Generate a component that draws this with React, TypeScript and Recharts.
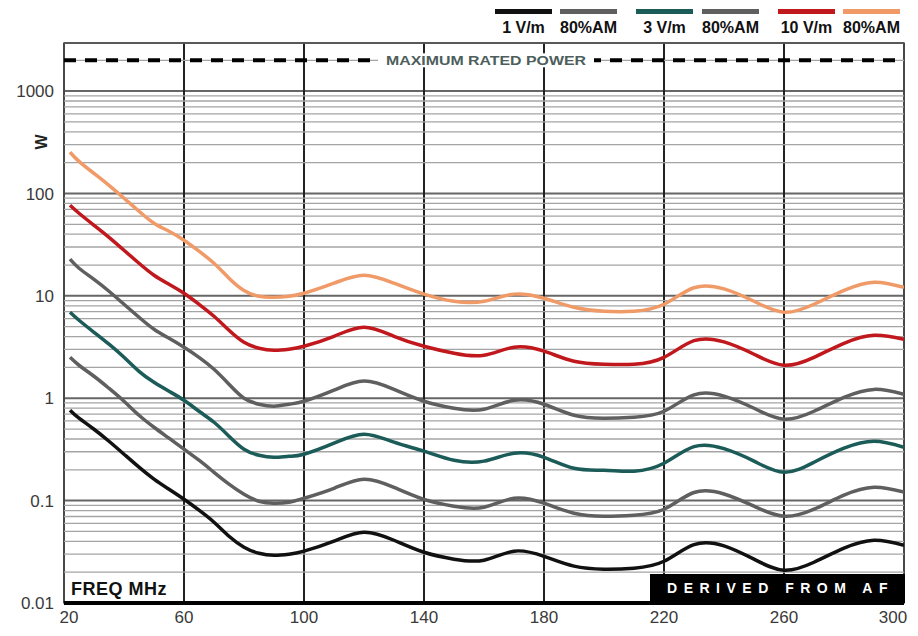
import React from 'react';
import {
  LineChart, Line, XAxis, YAxis, CartesianGrid, ReferenceLine, ReferenceArea,
} from 'recharts';

// frequency points (MHz)
const freqs = [
  22, 25, 30, 35, 40, 45, 50, 55, 60, 65, 70, 75, 80, 85, 90, 95, 100,
  110, 120, 130, 140, 150, 160, 170, 180, 190, 200, 210, 220, 230, 240,
  250, 260, 270, 280, 290, 300,
];

// required power (W), one array per curve
const e1 = [
  0.764, 0.638, 0.498, 0.38, 0.284, 0.212, 0.162, 0.129, 0.103, 0.0806, 0.0615, 0.0449, 0.0351, 0.0306, 0.0293, 0.03, 0.0321,
  0.0402, 0.0491, 0.041, 0.0313, 0.0268, 0.0262, 0.0321, 0.0286, 0.0229, 0.0214, 0.0219, 0.0256, 0.0372, 0.0362,
  0.0268, 0.0209, 0.025, 0.0343, 0.041, 0.0367,
];
const e1am = [
  2.51, 2.1, 1.64, 1.25, 0.935, 0.682, 0.521, 0.407, 0.318, 0.248, 0.189, 0.145, 0.1155, 0.0987, 0.0944, 0.0965, 0.1055,
  0.132, 0.162, 0.135, 0.103, 0.0882, 0.0862, 0.1055, 0.0944, 0.0753, 0.0704, 0.072, 0.0824, 0.12, 0.116,
  0.0882, 0.0704, 0.0824, 0.113, 0.135, 0.121,
];
const e3 = [
  6.92, 5.78, 4.41, 3.37, 2.51, 1.83, 1.43, 1.17, 0.955, 0.746, 0.583, 0.426, 0.318, 0.277, 0.265, 0.271, 0.284,
  0.364, 0.445, 0.372, 0.304, 0.248, 0.243, 0.29, 0.265, 0.207, 0.198, 0.194, 0.232, 0.337, 0.322,
  0.243, 0.189, 0.237, 0.325, 0.38, 0.332,
];
const e3am = [
  22.8, 18.6, 14.5, 11.1, 8.28, 6.18, 4.72, 3.85, 3.15, 2.51, 1.92, 1.37, 1.0, 0.874, 0.835, 0.874, 0.935,
  1.2, 1.47, 1.22, 0.935, 0.798, 0.781, 0.956, 0.874, 0.682, 0.638, 0.652, 0.746, 1.08, 1.05,
  0.798, 0.624, 0.746, 1.02, 1.22, 1.094,
];
const e10 = [
  76.7, 64.1, 48.9, 37.3, 27.9, 20.8, 15.9, 13.0, 10.6, 8.28, 6.32, 4.61, 3.52, 3.08, 2.94, 3.01, 3.22,
  4.03, 4.94, 4.03, 3.22, 2.75, 2.63, 3.15, 2.88, 2.3, 2.15, 2.15, 2.51, 3.65, 3.55,
  2.69, 2.1, 2.51, 3.44, 4.12, 3.77,
];
const e10am = [
  253, 206, 157, 120, 89.8, 67.0, 51.2, 42.8, 34.9, 27.3, 20.8, 14.9, 11.3, 9.91, 9.69, 9.91, 10.6,
  13.3, 15.9, 13.3, 10.4, 8.85, 8.85, 10.4, 9.48, 7.74, 7.07, 7.07, 8.28, 12.0, 11.7,
  8.85, 6.92, 8.28, 11.3, 13.6, 12.1,
];

const xTicks = [20, 60, 100, 140, 180, 220, 260, 300];
const yTicks = [0.01, 0.1, 1, 10, 100, 1000];
const minorSteps = [2, 3, 4, 5, 6, 7, 8, 9];
const yTop = 2950;
const maxRated = 2000;

const series = [
  { key: 'e1', label: '1 V/m', color: '#111111', values: e1 },
  { key: 'e1am', label: '80%AM', color: '#5f5f5f', values: e1am },
  { key: 'e3', label: '3 V/m', color: '#1b5b58', values: e3 },
  { key: 'e3am', label: '80%AM', color: '#5f5f5f', values: e3am },
  { key: 'e10', label: '10 V/m', color: '#c0181c', values: e10 },
  { key: 'e10am', label: '80%AM', color: '#f09a68', values: e10am },
];

const data = freqs.map((f, i) => {
  const row: Record<string, number> = { f };
  series.forEach((s) => { row[s.key] = s.values[i]; });
  return row;
});

const minorLines = yTicks.flatMap((d) => minorSteps.map((m) => d * m)).filter((v) => v < yTop);

const font = '"Liberation Sans", Arial, sans-serif';

const XTick = (props: any) => {
  const { x, y, payload, index } = props;
  const shift = index === 0 ? 5 : index === xTicks.length - 1 ? -11 : 0;
  return (
    <text x={x + shift} y={y} dy={14} textAnchor="middle" fill="#3a3a3a" fontSize={17} fontFamily={font}>
      {payload.value}
    </text>
  );
};

const MaxLabel = (props: any) => {
  const { viewBox } = props;
  const cx = viewBox.x + viewBox.width / 2 + 2;
  const cy = viewBox.y;
  return (
    <g>
      <rect x={cx - 108} y={cy - 7} width={216} height={14} fill="#fff" />
      <text x={cx} y={cy + 4.5} textAnchor="middle" fontSize={12} fontWeight="bold" fill="#4d5e5c"
        fontFamily={font} textLength={200} lengthAdjust="spacingAndGlyphs">
        MAXIMUM RATED POWER
      </text>
    </g>
  );
};

const legendLeft = [495, 560, 636, 702, 778, 843];

export default function App() {
  return (
    <div style={{ position: 'relative', width: 918, height: 636, background: '#fff', fontFamily: font }}>
      <style>{'body{margin:0}'}</style>
      <LineChart width={918} height={636} data={data} margin={{ top: 43, right: 14, bottom: 0, left: 4 }}>
        {minorLines.map((v) => (
          <ReferenceLine key={v} y={v} stroke="#a4a4a4" strokeWidth={1.3} />
        ))}
        <CartesianGrid vertical={false} stroke="#666" strokeWidth={2} />
        <CartesianGrid horizontal={false} stroke="#222" strokeWidth={2} />
        <ReferenceArea x1={20} x2={300} y1={0.01} y2={yTop} fill="none" stroke="#555" strokeWidth={1.5} />
        <XAxis
          dataKey="f" type="number" domain={[20, 300]} ticks={xTicks} interval={0}
          height={33} tickSize={0} tickMargin={6} tick={<XTick />}
          axisLine={{ stroke: '#000', strokeWidth: 4 }} allowDataOverflow
        />
        <YAxis
          scale="log" domain={[0.01, yTop]} ticks={yTicks} interval={0} allowDataOverflow
          width={60} tickSize={0} tickMargin={10} axisLine={false}
          tick={{ fill: '#3a3a3a', fontSize: 17, fontFamily: font }}
          tickFormatter={(v: number) => String(v)}
        />
        <ReferenceLine y={maxRated} stroke="#000" strokeWidth={4} strokeDasharray="12 9" label={<MaxLabel />} />
        {series.map((s) => (
          <Line key={s.key} dataKey={s.key} type="natural" stroke={s.color} strokeWidth={3.5}
            dot={false} isAnimationActive={false} />
        ))}
      </LineChart>

      {/* legend */}
      {series.map((s, i) => (
        <div key={s.key} style={{ position: 'absolute', left: legendLeft[i], top: 9, width: 57, textAlign: 'center' }}>
          <div style={{ height: 5, background: s.color }} />
          <div style={{ marginTop: 5, fontSize: 16, fontWeight: 'bold', color: '#111', whiteSpace: 'nowrap', lineHeight: '18px' }}>
            {s.label}
          </div>
        </div>
      ))}

      <div style={{ position: 'absolute', left: 34, top: 133, fontSize: 16, fontWeight: 'bold', color: '#222', transform: 'rotate(-90deg)' }}>
        W
      </div>

      <div style={{ position: 'absolute', left: 71, top: 578, fontSize: 18, fontWeight: 'bold', color: '#111', letterSpacing: 0.5, lineHeight: '22px' }}>
        FREQ MHz
      </div>

      <div style={{
        position: 'absolute', left: 650, top: 574, width: 255, height: 29, background: '#000', color: '#fff',
        fontSize: 14, fontWeight: 'bold', letterSpacing: 6.5, lineHeight: '29px', textAlign: 'center', paddingLeft: 6,
        boxSizing: 'border-box',
      }}>
        DERIVED FROM AF
      </div>
    </div>
  );
}
